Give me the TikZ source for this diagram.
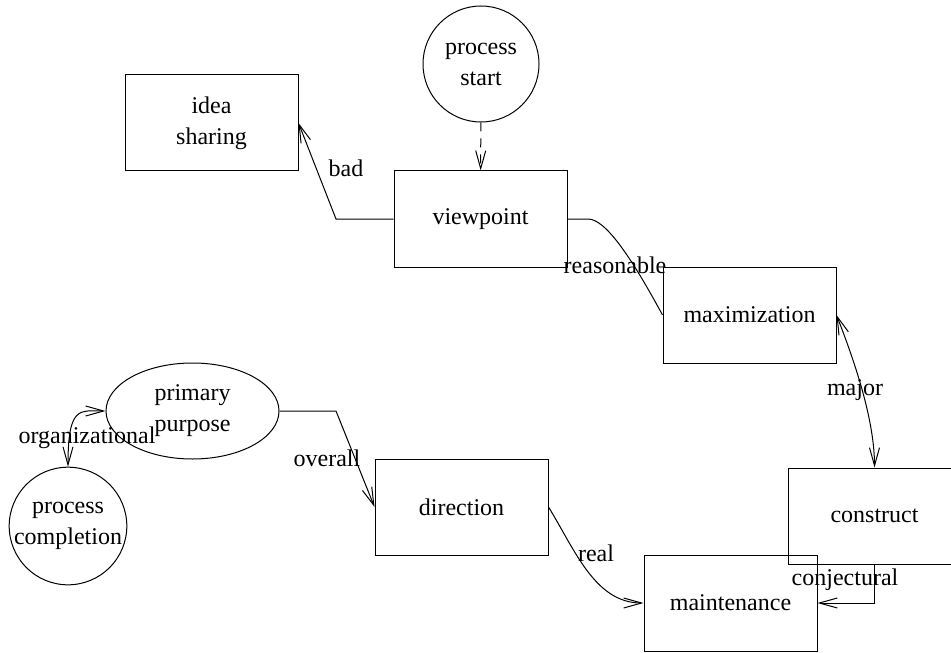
\documentclass[tikz,border=0pt]{standalone}
\usepackage{fontspec}
\setmainfont{Liberation Serif}
\usetikzlibrary{arrows.meta,shapes.geometric}
\begin{document}
\begin{tikzpicture}[x=0.5pt,y=-0.5pt,
  every node/.style={font=\fontsize{12}{15.5}\selectfont, align=center, inner sep=0pt},
  boxnode/.style={draw, line width=0.5pt, minimum width=86.5pt, minimum height=48pt},
  circnode/.style={draw, circle, line width=0.5pt, minimum size=58pt},
  ellnode/.style={draw, ellipse, line width=0.5pt, minimum width=86.5pt, minimum height=48pt},
  conn/.style={line width=0.5pt},
  tip/.style={-{Straight Barb[length=9pt,width=5pt]}},
  bitip/.style={{Straight Barb[length=9pt,width=5pt]}-{Straight Barb[length=9pt,width=5pt]}},
  lbl/.style={inner sep=0pt}
]
\useasboundingbox (0,0) rectangle (951,652);
\node[boxnode] (idea) at (211.5,123) {idea\\sharing};
\node[circnode] (ps) at (481,64) {process\\start};
\node[boxnode] (vp) at (480.5,219) {viewpoint};
\node[boxnode] (max) at (749.5,315) {maximization};
\node[boxnode] (con) at (874.5,516) {construct};
\node[boxnode] (mnt) at (730.5,603) {maintenance};
\node[boxnode] (dir) at (461.5,507) {direction};
\node[ellnode] (pp) at (192.5,411) {primary\\purpose};
\node[circnode] (pc) at (68,526) {process\\completion};

\coordinate (b1) at (336,219);
\coordinate (r1) at (588,219);
\coordinate (o1) at (336,411);
\coordinate (c1) at (874.5,603);

\draw[conn,tip,dash pattern=on 4.5pt off 3.5pt] (ps) -- (vp);
\draw[conn,tip] (vp.west) -- (b1) -- (idea.east);
\draw[conn] (vp.east) -- (r1) .. controls (605,219) and (630,255) .. (max.west);
\draw[conn,bitip] (max.east) .. controls (850,350) and (874.5,415) .. (con.north);
\draw[conn,tip] (con.south) -- (c1) -- (mnt.east);
\draw[conn,tip] (dir.east) .. controls (575,550) and (595,603) .. (mnt.west);
\draw[conn,tip] (pp.east) -- (o1) -- (dir.west);
\draw[conn,bitip] (pc.north) .. controls (68,405) and (80,411) .. (pp.west);

\node[lbl] (lbad) at (346,168) {bad};
\node[lbl] (lrea) at (615,265) {reasonable};
\node[lbl] (lmaj) at (855,390) {major};
\node[lbl] (lcon) at (845,580) {conjectural};
\node[lbl] (lrea2) at (596,553) {real};
\node[lbl] (lov) at (327,458) {overall};
\node[lbl] (lorg) at (87,438) {organizational};
\end{tikzpicture}
\end{document}
